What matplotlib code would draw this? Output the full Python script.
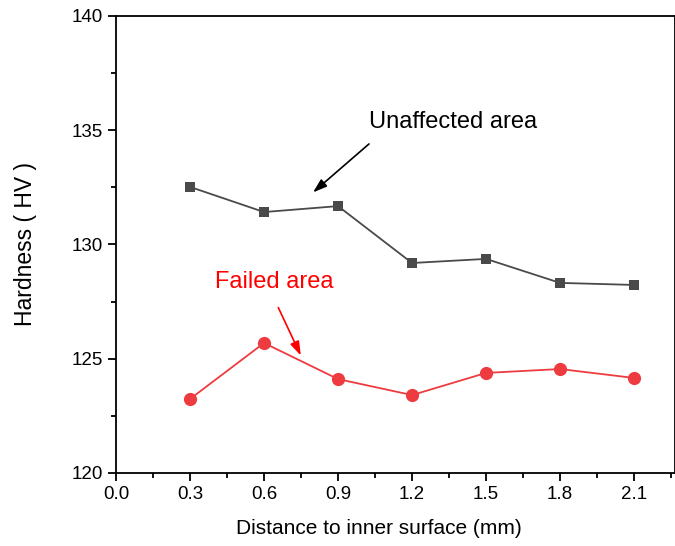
import matplotlib
matplotlib.use("Agg")
import matplotlib.pyplot as plt
from matplotlib.ticker import MultipleLocator, FormatStrFormatter

plt.rcParams['font.family'] = ['Liberation Sans', 'DejaVu Sans']

# distance from inner surface (mm)
distance = [0.3, 0.6, 0.9, 1.2, 1.5, 1.8, 2.1]
unaffected = [132.52, 131.42, 131.68, 129.19, 129.37, 128.32, 128.23]
failed = [123.24, 125.69, 124.11, 123.41, 124.38, 124.55, 124.16]

fig = plt.figure(figsize=(6.75, 5.46), dpi=100)
ax = fig.add_axes([0.1719, 0.1337, 0.8281, 0.837])

ax.plot(distance, unaffected, color='#4a4a4a', marker='s', markersize=7.5,
        linewidth=1.3, markeredgewidth=0)
ax.plot(distance, failed, color='#ee3b3f', marker='o', markersize=9.5,
        linewidth=1.3, markeredgewidth=0)

ax.text(1.026, 135.36, 'Unaffected area', fontsize=17, color='black', va='center')
ax.text(0.401, 128.36, 'Failed area', fontsize=17, color='red', va='center')

ax.annotate('', xy=(0.79, 132.2), xytext=(1.034, 134.48),
            arrowprops=dict(arrowstyle='-|>,head_length=0.6,head_width=0.2',
                            color='black', lw=1.2, mutation_scale=14))
ax.annotate('', xy=(0.754, 125.03), xytext=(0.653, 127.35),
            arrowprops=dict(arrowstyle='-|>,head_length=0.6,head_width=0.2',
                            color='red', lw=1.2, mutation_scale=14))

ax.set_xlim(0, 2.266)
ax.set_ylim(120, 140)
ax.xaxis.set_major_locator(MultipleLocator(0.3))
ax.xaxis.set_minor_locator(MultipleLocator(0.15))
ax.yaxis.set_major_locator(MultipleLocator(5))
ax.yaxis.set_minor_locator(MultipleLocator(2.5))
ax.xaxis.set_major_formatter(FormatStrFormatter('%.1f'))
ax.yaxis.set_major_formatter(FormatStrFormatter('%d'))

ax.tick_params(which='major', direction='out', length=6, width=1.3, labelsize=13.5)
ax.tick_params(which='minor', direction='out', length=3.5, width=1.3)
ax.tick_params(top=False, right=False, which='both')
for s in ax.spines.values():
    s.set_linewidth(1.3)

ax.set_xlabel('Distance to inner surface (mm)', fontsize=15)
ax.set_ylabel('Hardness ( HV )', fontsize=16.5)
ax.xaxis.set_label_coords(0.47, -0.1)
ax.yaxis.set_label_coords(-0.141, 0.502)

plt.savefig('out.png', dpi=100)
